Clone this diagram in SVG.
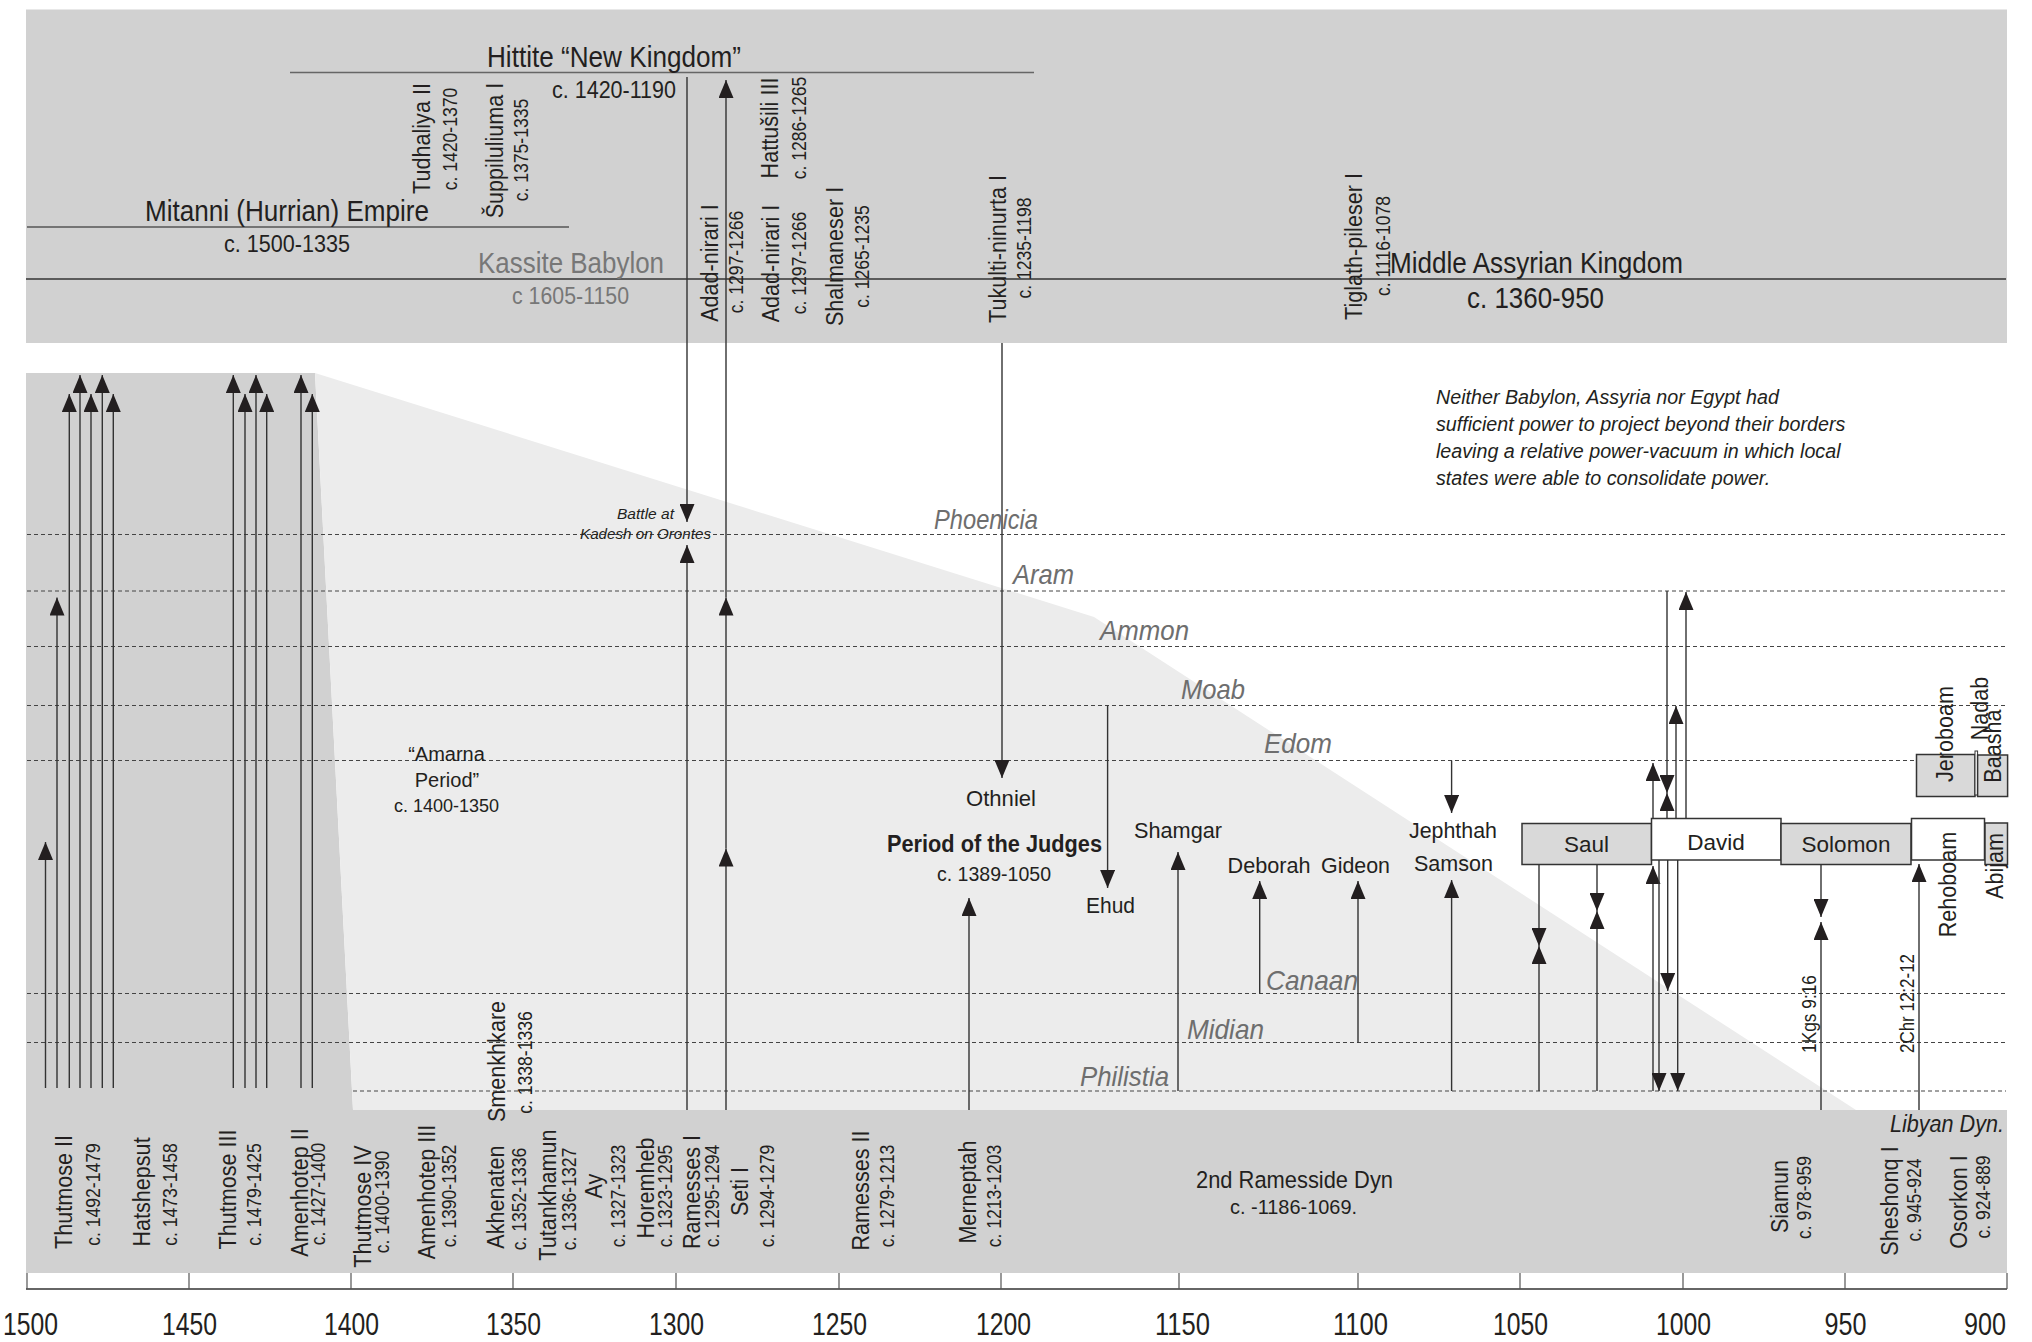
<svg xmlns="http://www.w3.org/2000/svg" width="2032" height="1342" viewBox="0 0 2032 1342">
<defs>
<style>
text{font-family:'Liberation Sans',Arial,sans-serif;fill:#231f20}
.n{font-family:'Liberation Sans Narrow','Liberation Sans',Arial,sans-serif}
.g{fill:#777777}
.rg{font-family:'Liberation Sans Narrow','Liberation Sans',Arial,sans-serif;font-style:italic;fill:#6e6e6e;font-size:28px}
.vn{font-size:24px;text-anchor:middle}
.vd{font-size:19.5px;text-anchor:middle}
.lab{font-size:22.5px;text-anchor:middle}
.lb{font-size:22.5px}
.it{font-style:italic;font-size:19.7px}
.sm{font-style:italic;font-size:15.5px}
.yr{font-family:'Liberation Sans Narrow','Liberation Sans',Arial,sans-serif;font-size:31px}
.ar{stroke:#333;stroke-width:1.4;fill:none;marker-end:url(#ah)}
.dash{stroke:#444;stroke-width:1;stroke-dasharray:4 3;fill:none}
.box{stroke:#333;stroke-width:1.5}
.gb{fill:#d9d9d9}
.wb{fill:#ffffff}
.tick{stroke:#555;stroke-width:1.2}
</style>
<marker id="ah" viewBox="0 0 18 15" refX="18" refY="7.5" markerWidth="18" markerHeight="15" markerUnits="userSpaceOnUse" orient="auto">
<path d="M0,0 L18,7.5 L0,15 Z" fill="#231f20"/>
</marker>
</defs>
<rect width="2032" height="1342" fill="#ffffff"/>
<g id="background">
<rect x="26" y="9.5" width="1981" height="333.5" fill="#d1d1d1"/>
<polygon points="26,373 315,373 353,1110 2007,1110 2007,1273 26,1273" fill="#d1d1d1"/>
<polygon points="315,373 1094,617 1856,1110 353,1110" fill="#ececec"/>
<path d="M290,72.5H1034" stroke="#666" stroke-width="1.6"/>
<path d="M27,227H569" stroke="#555" stroke-width="1.6"/>
<path d="M26,279H2006" stroke="#333" stroke-width="1.4"/>
</g>
<g id="region-lines">
<path class="dash" d="M27,534.5H2006"/>
<path class="dash" d="M27,591H2006"/>
<path class="dash" d="M27,646.5H2006"/>
<path class="dash" d="M27,705.5H2006"/>
<path class="dash" d="M27,760.5H2006"/>
<path class="dash" d="M27,993.5H2006"/>
<path class="dash" d="M27,1042.5H2006"/>
<path class="dash" d="M353,1091H2006"/>
</g>
<g id="axis">
<path d="M26,1289H2007" stroke="#333" stroke-width="1.5"/>
<path class="tick" d="M27,1273V1289M189,1273V1289M351,1273V1289M513,1273V1289M676,1273V1289M839,1273V1289M1001,1273V1289M1179,1273V1289M1358,1273V1289M1520,1273V1289M1683,1273V1289M1845,1273V1289M2007,1273V1289"/>
<text class="yr" x="3" y="1335" textLength="55" lengthAdjust="spacingAndGlyphs">1500</text>
<text class="yr" x="162" y="1335" textLength="55" lengthAdjust="spacingAndGlyphs">1450</text>
<text class="yr" x="324" y="1335" textLength="55" lengthAdjust="spacingAndGlyphs">1400</text>
<text class="yr" x="486" y="1335" textLength="55" lengthAdjust="spacingAndGlyphs">1350</text>
<text class="yr" x="649" y="1335" textLength="55" lengthAdjust="spacingAndGlyphs">1300</text>
<text class="yr" x="812" y="1335" textLength="55" lengthAdjust="spacingAndGlyphs">1250</text>
<text class="yr" x="976" y="1335" textLength="55" lengthAdjust="spacingAndGlyphs">1200</text>
<text class="yr" x="1155" y="1335" textLength="55" lengthAdjust="spacingAndGlyphs">1150</text>
<text class="yr" x="1333" y="1335" textLength="55" lengthAdjust="spacingAndGlyphs">1100</text>
<text class="yr" x="1493" y="1335" textLength="55" lengthAdjust="spacingAndGlyphs">1050</text>
<text class="yr" x="1656" y="1335" textLength="55" lengthAdjust="spacingAndGlyphs">1000</text>
<text class="yr" x="1824.5" y="1335" textLength="42" lengthAdjust="spacingAndGlyphs">950</text>
<text class="yr" x="1964" y="1335" textLength="42" lengthAdjust="spacingAndGlyphs">900</text>
</g>
<g id="connectors">
<path class="ar" d="M45.5,1088V842"/>
<path class="ar" d="M57,1088V597.5"/>
<path class="ar" d="M69.3,1088V394"/>
<path class="ar" d="M80,1088V375"/>
<path class="ar" d="M91,1088V394"/>
<path class="ar" d="M102.3,1088V375"/>
<path class="ar" d="M113.3,1088V394"/>
<path class="ar" d="M233.3,1088V375"/>
<path class="ar" d="M245,1088V394"/>
<path class="ar" d="M256,1088V375"/>
<path class="ar" d="M266.7,1088V394"/>
<path class="ar" d="M301,1088V375"/>
<path class="ar" d="M312.3,1088V394"/>
<path class="ar" d="M687,77V522"/>
<path class="ar" d="M687,1110V545"/>
<path class="ar" d="M726,1110V848.6"/>
<path class="ar" d="M726,848.6V597.5"/>
<path class="ar" d="M726,597.5V80"/>
<path class="ar" d="M1002,343V778"/>
<path class="ar" d="M969,1110V898"/>
<path class="ar" d="M1107.6,705.5V888"/>
<path class="ar" d="M1178,1091V852"/>
<path class="ar" d="M1259.7,993.5V881"/>
<path class="ar" d="M1358,1042.5V881"/>
<path class="ar" d="M1451.6,760.5V813"/>
<path class="ar" d="M1451.6,1091V880"/>
<path class="ar" d="M1539,864V946"/>
<path class="ar" d="M1539,1091V946"/>
<path class="ar" d="M1597,864V911"/>
<path class="ar" d="M1597,1091V911"/>
<path class="ar" d="M1653,818V763"/>
<path class="ar" d="M1667,591V793"/>
<path class="ar" d="M1667,818V793"/>
<path class="ar" d="M1676,818V706"/>
<path class="ar" d="M1686,818V592"/>
<path class="ar" d="M1653,1091V866"/>
<path class="ar" d="M1659,860V1091"/>
<path class="ar" d="M1667.7,860V991"/>
<path class="ar" d="M1677.7,860V1091"/>
<path class="ar" d="M1821,865V917"/>
<path class="ar" d="M1821,1110V922"/>
<path class="ar" d="M1919,1110V864"/>
</g>
<g id="empires">
<g id="hittite">
<text x="487" y="67" font-size="29" class="n" textLength="254" lengthAdjust="spacingAndGlyphs">Hittite “New Kingdom”</text>
<text x="552" y="98" font-size="23.5" class="n" textLength="124" lengthAdjust="spacingAndGlyphs">c. 1420-1190</text>
</g>
<g id="mitanni">
<text x="145" y="221" font-size="29" class="n" textLength="284" lengthAdjust="spacingAndGlyphs">Mitanni (Hurrian) Empire</text>
<text x="224" y="252" font-size="23.5" class="n" textLength="126" lengthAdjust="spacingAndGlyphs">c. 1500-1335</text>
</g>
<g id="kassite">
<text x="478" y="273" font-size="29" class="n g" textLength="186" lengthAdjust="spacingAndGlyphs">Kassite Babylon</text>
<text x="512" y="304" font-size="23.5" class="n g" textLength="117" lengthAdjust="spacingAndGlyphs">c 1605-1150</text>
</g>
<g id="assyria">
<text x="1390" y="273" font-size="29" class="n" textLength="293" lengthAdjust="spacingAndGlyphs">Middle Assyrian Kingdom</text>
<text x="1467" y="308" font-size="30" class="n" textLength="137" lengthAdjust="spacingAndGlyphs">c. 1360-950</text>
</g>
</g>
<g id="kings-top">
<g id="tudhaliya"><text class="vn" transform="translate(429.5,138.5) rotate(-90) scale(0.9,1)">Tudhaliya II</text><text class="vd" transform="translate(457,139) rotate(-90) scale(0.9,1)">c. 1420-1370</text></g>
<g id="suppiluliuma"><text class="vn" transform="translate(502.5,150.5) rotate(-90) scale(0.9,1)">Šuppiluliuma I</text><text class="vd" transform="translate(528,150) rotate(-90) scale(0.9,1)">c. 1375-1335</text></g>
<g id="adad1"><text class="vn" transform="translate(717.5,263) rotate(-90) scale(0.9,1)">Adad-nirari I</text><text class="vd" transform="translate(743,262) rotate(-90) scale(0.9,1)">c. 1297-1266</text></g>
<g id="adad2"><text class="vn" transform="translate(778.5,263.5) rotate(-90) scale(0.9,1)">Adad-nirari I</text><text class="vd" transform="translate(806,263) rotate(-90) scale(0.9,1)">c. 1297-1266</text></g>
<g id="hattusili"><text class="vn" transform="translate(778,128) rotate(-90) scale(0.9,1)">Hattušili III</text><text class="vd" transform="translate(806,128) rotate(-90) scale(0.9,1)">c. 1286-1265</text></g>
<g id="shalmaneser"><text class="vn" transform="translate(842.5,256.5) rotate(-90) scale(0.9,1)">Shalmaneser I</text><text class="vd" transform="translate(869,256.5) rotate(-90) scale(0.9,1)">c. 1265-1235</text></g>
<g id="tukulti"><text class="vn" transform="translate(1005.5,249) rotate(-90) scale(0.9,1)">Tukulti-ninurta I</text><text class="vd" transform="translate(1031,248) rotate(-90) scale(0.9,1)">c. 1235-1198</text></g>
<g id="tiglath"><text class="vn" transform="translate(1361.5,246.5) rotate(-90) scale(0.9,1)">Tiglath-pileser I</text><text class="vd" transform="translate(1390,246) rotate(-90) scale(0.9,1)">c. 1116-1078</text></g>
</g>
<g id="note">
<text class="it" x="1436" y="404">Neither Babylon, Assyria nor Egypt had</text>
<text class="it" x="1436" y="431">sufficient power to project beyond their borders</text>
<text class="it" x="1436" y="458">leaving a relative power-vacuum in which local</text>
<text class="it" x="1436" y="485">states were able to consolidate power.</text>
</g>
<g id="regions">
<text class="rg" x="934" y="529" textLength="104" lengthAdjust="spacingAndGlyphs">Phoenicia</text>
<text class="rg" x="1013" y="584" textLength="61" lengthAdjust="spacingAndGlyphs">Aram</text>
<text class="rg" x="1100" y="640" textLength="89" lengthAdjust="spacingAndGlyphs">Ammon</text>
<text class="rg" x="1181" y="699" textLength="64" lengthAdjust="spacingAndGlyphs">Moab</text>
<text class="rg" x="1264" y="752.5" textLength="68" lengthAdjust="spacingAndGlyphs">Edom</text>
<text class="rg" x="1266" y="990" textLength="92" lengthAdjust="spacingAndGlyphs">Canaan</text>
<text class="rg" x="1187" y="1038.5" textLength="77" lengthAdjust="spacingAndGlyphs">Midian</text>
<text class="rg" x="1080" y="1085.5" textLength="89" lengthAdjust="spacingAndGlyphs">Philistia</text>
</g>
<g id="kadesh">
<text class="sm" x="617" y="518.5" textLength="57" lengthAdjust="spacingAndGlyphs">Battle at</text>
<text class="sm" x="580" y="539" textLength="131" lengthAdjust="spacingAndGlyphs">Kadesh on Orontes</text>
</g>
<g id="amarna">
<text x="446.5" y="761" font-size="20" text-anchor="middle">“Amarna</text>
<text x="447" y="786.5" font-size="20" text-anchor="middle">Period”</text>
<text x="446.5" y="812" font-size="18" text-anchor="middle">c. 1400-1350</text>
</g>
<g id="judges">
<text class="lb" x="966" y="806" textLength="70" lengthAdjust="spacingAndGlyphs">Othniel</text>
<text x="887" y="852" font-size="23" font-weight="bold" textLength="215" lengthAdjust="spacingAndGlyphs">Period of the Judges</text>
<text x="937" y="881" font-size="20.5" textLength="114" lengthAdjust="spacingAndGlyphs">c. 1389-1050</text>
<text class="lb" x="1086" y="912.5" textLength="49" lengthAdjust="spacingAndGlyphs">Ehud</text>
<text class="lb" x="1134" y="837.5" textLength="88" lengthAdjust="spacingAndGlyphs">Shamgar</text>
<text class="lb" x="1227.5" y="873" textLength="83" lengthAdjust="spacingAndGlyphs">Deborah</text>
<text class="lb" x="1321" y="873" textLength="69" lengthAdjust="spacingAndGlyphs">Gideon</text>
<text class="lb" x="1409" y="837.5" textLength="88" lengthAdjust="spacingAndGlyphs">Jephthah</text>
<text class="lb" x="1414" y="871" textLength="79" lengthAdjust="spacingAndGlyphs">Samson</text>
</g>
<g id="saul"><rect class="box gb" x="1522" y="823.5" width="129.5" height="41"/><text class="lab" x="1586.5" y="852">Saul</text></g>
<g id="david"><rect class="box wb" x="1651.5" y="818.5" width="129.5" height="41.5"/><text class="lab" x="1716" y="849.5">David</text></g>
<g id="solomon"><rect class="box gb" x="1781" y="823.5" width="130" height="41"/><text class="lab" x="1846" y="852">Solomon</text></g>
<g id="rehoboam"><rect class="box wb" x="1911.5" y="818.5" width="73" height="41.5"/><text class="vn" transform="translate(1956,884.5) rotate(-90) scale(0.9,1)">Rehoboam</text></g>
<g id="abijam"><rect class="box gb" x="1985" y="823" width="22.5" height="41.5"/><text class="vn" transform="translate(2003,866) rotate(-90) scale(0.9,1)">Abijam</text></g>
<g id="jeroboam"><rect class="box gb" x="1916.5" y="754.5" width="58.5" height="42"/><text class="vn" transform="translate(1953,734) rotate(-90) scale(0.9,1)">Jeroboam</text></g>
<g id="nadab"><rect class="box wb" x="1975" y="751" width="2.6" height="44" style="stroke-width:1"/><text class="vn" transform="translate(1988,708.5) rotate(-90) scale(0.9,1)">Nadab</text></g>
<g id="baasha"><rect class="box gb" x="1977.6" y="755" width="30" height="41.5"/><text class="vn" transform="translate(2001,746) rotate(-90) scale(0.9,1)">Baasha</text></g>
<g id="refs">
<text class="n" font-size="19.5" transform="translate(1816,1053) rotate(-90)" textLength="78" lengthAdjust="spacingAndGlyphs">1Kgs 9:16</text>
<text class="n" font-size="19.5" transform="translate(1914,1053) rotate(-90)" textLength="99" lengthAdjust="spacingAndGlyphs">2Chr 12:2-12</text>
</g>
<g id="egypt">
<g id="smenkhkare"><text class="vn" transform="translate(504.5,1061.5) rotate(-90) scale(0.9,1)">Smenkhkare</text><text class="vd" transform="translate(532,1062.5) rotate(-90) scale(0.9,1)">c. 1338-1336</text></g>
<g id="thutmose2"><text class="vn" transform="translate(71.5,1192) rotate(-90) scale(0.9,1)">Thutmose II</text><text class="vd" transform="translate(100,1194.5) rotate(-90) scale(0.9,1)">c. 1492-1479</text></g>
<g id="hatshepsut"><text class="vn" transform="translate(149.5,1192) rotate(-90) scale(0.9,1)">Hatshepsut</text><text class="vd" transform="translate(177,1194.5) rotate(-90) scale(0.9,1)">c. 1473-1458</text></g>
<g id="thutmose3"><text class="vn" transform="translate(235.5,1189.5) rotate(-90) scale(0.9,1)">Thutmose III</text><text class="vd" transform="translate(261,1194.5) rotate(-90) scale(0.9,1)">c. 1479-1425</text></g>
<g id="amenhotep2"><text class="vn" transform="translate(307.5,1192.5) rotate(-90) scale(0.9,1)">Amenhotep II</text><text class="vd" transform="translate(325,1194) rotate(-90) scale(0.9,1)">c. 1427-1400</text></g>
<g id="thutmose4"><text class="vn" transform="translate(370.5,1206.5) rotate(-90) scale(0.9,1)">Thutmose IV</text><text class="vd" transform="translate(389,1202) rotate(-90) scale(0.9,1)">c. 1400-1390</text></g>
<g id="amenhotep3"><text class="vn" transform="translate(434.5,1192) rotate(-90) scale(0.9,1)">Amenhotep III</text><text class="vd" transform="translate(456,1196) rotate(-90) scale(0.9,1)">c. 1390-1352</text></g>
<g id="akhenaten"><text class="vn" transform="translate(503.5,1197) rotate(-90) scale(0.9,1)">Akhenaten</text><text class="vd" transform="translate(526,1199) rotate(-90) scale(0.9,1)">c. 1352-1336</text></g>
<g id="tutankhamun"><text class="vn" transform="translate(555.5,1195) rotate(-90) scale(0.9,1)">Tutankhamun</text><text class="vd" transform="translate(576,1199) rotate(-90) scale(0.9,1)">c. 1336-1327</text></g>
<g id="ay"><text class="vn" transform="translate(601.5,1186) rotate(-90) scale(0.9,1)">Ay</text><text class="vd" transform="translate(625,1196) rotate(-90) scale(0.9,1)">c. 1327-1323</text></g>
<g id="horemheb"><text class="vn" transform="translate(653.5,1188) rotate(-90) scale(0.9,1)">Horemheb</text><text class="vd" transform="translate(672,1196) rotate(-90) scale(0.9,1)">c. 1323-1295</text></g>
<g id="ramesses1"><text class="vn" transform="translate(699.5,1192) rotate(-90) scale(0.9,1)">Ramesses I</text><text class="vd" transform="translate(719,1196) rotate(-90) scale(0.9,1)">c. 1295-1294</text></g>
<g id="seti1"><text class="vn" transform="translate(747.5,1191.5) rotate(-90) scale(0.9,1)">Seti I</text><text class="vd" transform="translate(774,1196) rotate(-90) scale(0.9,1)">c. 1294-1279</text></g>
<g id="ramesses2"><text class="vn" transform="translate(868.5,1190.5) rotate(-90) scale(0.9,1)">Ramesses II</text><text class="vd" transform="translate(894,1196) rotate(-90) scale(0.9,1)">c. 1279-1213</text></g>
<g id="merneptah"><text class="vn" transform="translate(975.5,1192) rotate(-90) scale(0.9,1)">Merneptah</text><text class="vd" transform="translate(1001,1196) rotate(-90) scale(0.9,1)">c. 1213-1203</text></g>
<g id="ramesside"><text class="n" x="1196" y="1188" font-size="24.5" textLength="197" lengthAdjust="spacingAndGlyphs">2nd Ramesside Dyn</text><text class="n" x="1230" y="1214" font-size="20.5" textLength="127" lengthAdjust="spacingAndGlyphs">c. -1186-1069.</text></g>
<g id="siamun"><text class="vn" transform="translate(1787.5,1196.5) rotate(-90) scale(0.9,1)">Siamun</text><text class="vd" transform="translate(1810.5,1197.5) rotate(-90) scale(0.9,1)">c. 978-959</text></g>
<g id="libyan"><text class="n" x="1890" y="1132" font-size="24.5" font-style="italic" textLength="114" lengthAdjust="spacingAndGlyphs">Libyan Dyn.</text></g>
<g id="sheshonq"><text class="vn" transform="translate(1897.5,1201) rotate(-90) scale(0.9,1)">Sheshonq I</text><text class="vd" transform="translate(1920.5,1200) rotate(-90) scale(0.9,1)">c. 945-924</text></g>
<g id="osorkon"><text class="vn" transform="translate(1966.5,1202) rotate(-90) scale(0.9,1)">Osorkon I</text><text class="vd" transform="translate(1989.5,1197) rotate(-90) scale(0.9,1)">c. 924-889</text></g>
</g>
</svg>
